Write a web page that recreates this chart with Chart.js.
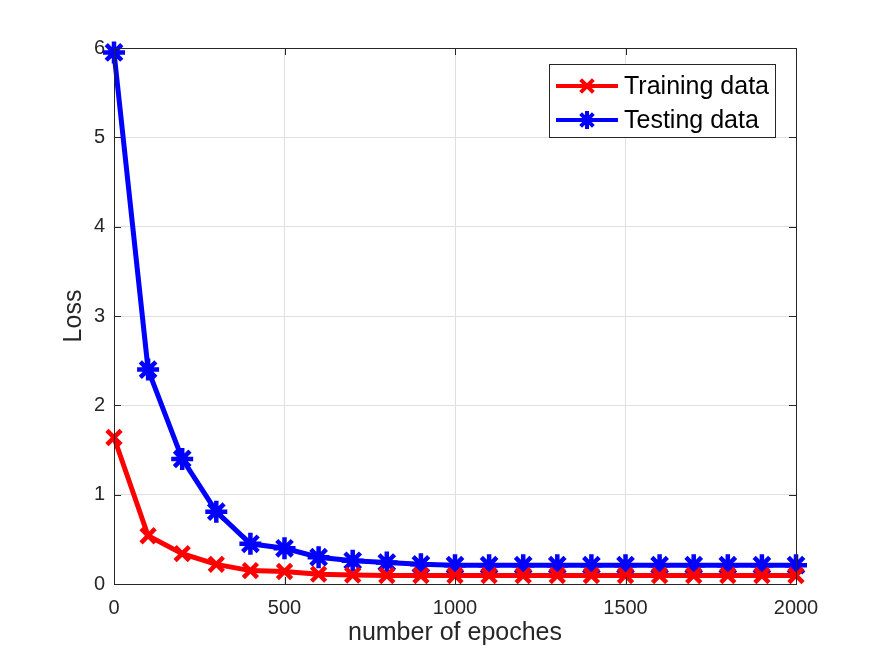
<!DOCTYPE html>
<html>
<head>
<meta charset="utf-8">
<script src="https://cdn.jsdelivr.net/npm/chart.js@4.4.0/dist/chart.umd.min.js"></script>
<style>
  html, body { margin: 0; padding: 0; background: #fff; }
  #wrap { width: 875px; height: 656px; }
</style>
</head>
<body>
<div id="wrap"><canvas id="lossChart"></canvas></div>
<script>
const epochs = [0, 100, 200, 300, 400, 500, 600, 700, 800, 900, 1000,
  1100, 1200, 1300, 1400, 1500, 1600, 1700, 1800, 1900, 2000]
const trainingLoss = [1.64, 0.54, 0.34, 0.22, 0.15, 0.14, 0.11, 0.1, 0.095, 0.095, 0.095,
  0.095, 0.095, 0.095, 0.095, 0.095, 0.095, 0.095, 0.095, 0.095, 0.095]
const testingLoss = [5.95, 2.4, 1.4, 0.81, 0.45, 0.4, 0.3, 0.26, 0.24, 0.22, 0.21,
  0.21, 0.21, 0.21, 0.21, 0.21, 0.21, 0.21, 0.21, 0.21, 0.21]
const xTicks = [0, 500, 1000, 1500, 2000]
const yTicks = [0, 1, 2, 3, 4, 5, 6]

const axisColor = '#262626'
const fontFamily = '"Liberation Sans", Arial, Helvetica, sans-serif'

const toPoints = (vals) => vals.map((v, i) => ({ x: epochs[i], y: v }))

// MATLAB-like box, inward ticks and bordered legend
const matlabBox = {
  id: 'matlabBox',
  afterDraw (chart) {
    const { ctx, chartArea: a, scales } = chart
    ctx.save()
    ctx.strokeStyle = axisColor
    ctx.lineWidth = 1
    ctx.strokeRect(a.left + 0.5, a.top + 0.5, a.right - a.left, a.bottom - a.top)
    const len = 7
    ctx.beginPath()
    xTicks.forEach(t => {
      const px = Math.round(scales.x.getPixelForValue(t)) + 0.5
      ctx.moveTo(px, a.bottom); ctx.lineTo(px, a.bottom - len)
      ctx.moveTo(px, a.top); ctx.lineTo(px, a.top + len)
    })
    yTicks.forEach(t => {
      const py = Math.round(scales.y.getPixelForValue(t)) + 0.5
      ctx.moveTo(a.left, py); ctx.lineTo(a.left + len, py)
      ctx.moveTo(a.right, py); ctx.lineTo(a.right - len, py)
    })
    ctx.stroke()

    // legend
    const lx = 549, ly = 64, lw = 226, lh = 73
    ctx.fillStyle = '#fff'
    ctx.fillRect(lx, ly, lw, lh)
    ctx.strokeStyle = axisColor
    ctx.strokeRect(lx + 0.5, ly + 0.5, lw, lh)
    chart.data.datasets.forEach((ds, i) => {
      const cy = ly + 22 + i * 34
      ctx.strokeStyle = ds.borderColor
      ctx.lineWidth = 4
      ctx.beginPath()
      ctx.moveTo(lx + 7, cy); ctx.lineTo(lx + 69, cy)
      ctx.stroke()
      Chart.helpers.drawPoint(ctx, {
        pointStyle: ds.pointStyle, radius: 9, borderWidth: 4
      }, lx + 38, cy)
      ctx.fillStyle = '#000'
      ctx.font = '25px ' + fontFamily
      ctx.textBaseline = 'middle'
      ctx.textAlign = 'left'
      ctx.fillText(ds.label, lx + 75, cy + 1)
    })
    ctx.restore()
  }
}

new Chart(document.getElementById('lossChart').getContext('2d'), {
  type: 'line',
  data: {
    datasets: [
      {
        label: 'Training data',
        data: toPoints(trainingLoss),
        borderColor: '#ff0000',
        backgroundColor: '#ff0000',
        borderWidth: 5,
        pointStyle: 'crossRot',
        pointRadius: 10,
        pointBorderWidth: 4.5,
        tension: 0
      }, {
        label: 'Testing data',
        data: toPoints(testingLoss),
        borderColor: '#0000ff',
        backgroundColor: '#0000ff',
        borderWidth: 5,
        pointStyle: 'star',
        pointRadius: 11,
        pointBorderWidth: 4.5,
        tension: 0
      }
    ]
  },
  options: {
    responsive: true,
    maintainAspectRatio: false,
    animation: false,
    clip: false,
    layout: { padding: { left: 0, top: 48, right: 79, bottom: 0 } },
    plugins: {
      legend: { display: false },
      tooltip: { enabled: false }
    },
    scales: {
      x: {
        type: 'linear',
        min: 0,
        max: 2000,
        afterBuildTicks (scale) { scale.ticks = xTicks.map(v => ({ value: v })) },
        afterFit (scale) { scale.height = 72 },
        grid: { color: '#e0e0e0', drawTicks: false },
        border: { color: axisColor },
        ticks: {
          color: axisColor,
          padding: 12,
          font: { family: fontFamily, size: 20 },
          callback: (v) => String(v)
        },
        title: {
          display: true,
          text: 'number of epoches',
          color: axisColor,
          font: { family: fontFamily, size: 25 },
          padding: { top: 0, bottom: 8 }
        }
      },
      y: {
        min: 0,
        max: 6,
        afterBuildTicks (scale) { scale.ticks = yTicks.map(v => ({ value: v })) },
        afterFit (scale) { scale.width = 114 },
        grid: { color: '#e0e0e0', drawTicks: false },
        border: { color: axisColor },
        ticks: { color: axisColor, padding: 9, font: { family: fontFamily, size: 20 } },
        title: {
          display: true,
          text: 'Loss',
          color: axisColor,
          font: { family: fontFamily, size: 25 },
          padding: { top: 59, bottom: 0 }
        }
      }
    }
  },
  plugins: [matlabBox]
})
</script>
</body>
</html>
